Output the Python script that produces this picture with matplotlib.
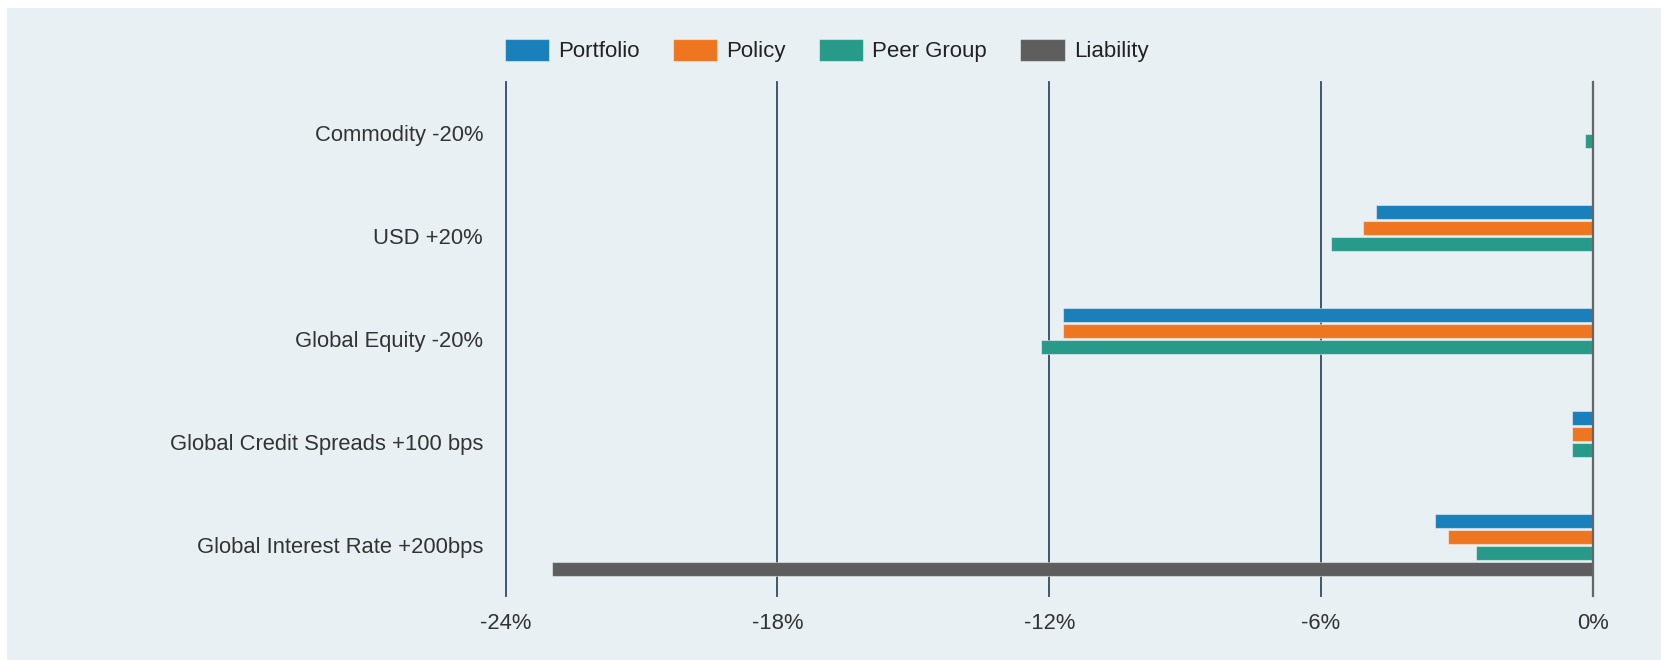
import matplotlib
matplotlib.use("Agg")
import matplotlib.pyplot as plt
from matplotlib.patches import Rectangle
from matplotlib.ticker import FuncFormatter

matplotlib.rcParams['font.family'] = ['Liberation Sans', 'DejaVu Sans']

categories = ["Commodity -20%", "USD +20%", "Global Equity -20%",
              "Global Credit Spreads +100 bps", "Global Interest Rate +200bps"]
portfolio = [0.0, -4.78, -11.69, -0.46, -3.48]
policy = [0.0, -5.07, -11.69, -0.46, -3.19]
peer_group = [-0.17, -5.78, -12.18, -0.46, -2.57]
liability = [0.0, 0.0, 0.0, 0.0, -22.98]
xticks = [-24, -18, -12, -6, 0]

series = (
    ("Portfolio", portfolio, "#1a80bb"),
    ("Policy", policy, "#ee7621"),
    ("Peer Group", peer_group, "#279a8a"),
    ("Liability", liability, "#5e5e5e"),
)

bg = "#e8f0f3"
fig = plt.figure(figsize=(16.61, 6.60), dpi=100, facecolor="white")
fig.patches.append(Rectangle((7 / 1661, 0), 1, 1 - 8 / 660, transform=fig.transFigure,
                             facecolor=bg, edgecolor="none", zorder=-10))
ax = fig.add_axes([505.7 / 1661, 1 - 596 / 660, 1087 / 1661, (596 - 81.7) / 660])
ax.set_facecolor("none")

slot = 0.1556
barh = 0.137
for k, (name, vals, col) in enumerate(series):
    ys = [i + (k - 1.5) * slot for i in range(len(categories))]
    ax.barh(ys, vals, height=barh, color=col, label=name, zorder=3,
            edgecolor=(1, 1, 1, 0.45), linewidth=0.8)

ax.set_xlim(-24, 0)
ax.set_ylim(len(categories) - 0.5, -0.5)
ax.set_xticks(xticks)
ax.xaxis.set_major_formatter(FuncFormatter(lambda v, p: "{:.0f}%".format(v)))
ax.set_yticks(range(len(categories)))
ax.set_yticklabels(categories)
for s in ax.spines.values():
    s.set_visible(False)
for t in xticks[:-1]:
    ax.axvline(t, color="#2f4d63", lw=1.3, zorder=1, clip_on=False)
ax.axvline(0, color="#666666", lw=1.6, zorder=4, clip_on=False)
ax.tick_params(axis="both", length=0, labelsize=15.8, colors="#333333")
ax.tick_params(axis="x", pad=12)
ax.tick_params(axis="y", pad=16.3)

handles, labels = ax.get_legend_handles_labels()
fig.legend(handles, labels, loc="center left", bbox_to_anchor=(504.6 / 1661, 1 - 50.5 / 660),
           ncol=4, frameon=False, fontsize=16, handlelength=2.0, handleheight=1.2,
           handletextpad=0.4, columnspacing=1.5, borderpad=0, borderaxespad=0,
           labelcolor="#222222")

fig.savefig("out.png", dpi=100, facecolor="white")
plt.close(fig)
